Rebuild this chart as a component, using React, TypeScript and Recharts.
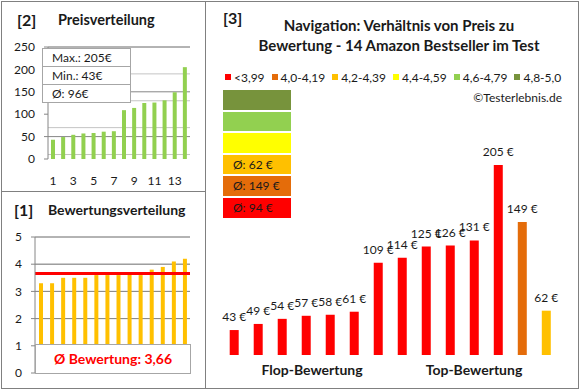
import { BarChart, Bar, XAxis, YAxis, CartesianGrid, ReferenceLine, Cell, LabelList } from 'recharts';

const FONT = 'Lato, "Open Sans", sans-serif';
const TEXT = '#1a1a1a';
const GRID_MINOR = '#c4c4c4';
const GRID_MAJOR = '#868686';

// [2] price distribution, sorted ascending
const rankLabels = ['1', '2', '3', '4', '5', '6', '7', '8', '9', '10', '11', '12', '13', '14'];
const sortedPrices = [43, 49, 54, 57, 58, 61, 62, 109, 114, 125, 126, 131, 149, 205];
const priceTicks = [0, 50, 100, 150, 200, 250];
const priceStats = ['Max.: 205€', 'Min.: 43€', 'Ø: 96€'];

// [1] rating distribution, sorted ascending
const sortedRatings = [3.3, 3.3, 3.5, 3.5, 3.5, 3.6, 3.6, 3.6, 3.6, 3.6, 3.8, 3.9, 4.1, 4.2];
const ratingTicks = [0, 1, 2, 3, 4, 5];
const ratingAverage = 3.66;
const ratingAverageText = 'Ø Bewertung: 3,66';

// [3] price vs rating
const navPrices = [43, 49, 54, 57, 58, 61, 109, 114, 125, 126, 131, 205, 149, 62];
const navClass = [0, 0, 0, 0, 0, 0, 0, 0, 0, 0, 0, 0, 1, 2];
const ratingClasses = ['<3,99', '4,0-4,19', '4,2-4,39', '4,4-4,59', '4,6-4,79', '4,8-5,0'];
const classColors = ['#FF0000', '#E46C0A', '#FFC000', '#FFFF00', '#92D050', '#77933C'];
const classAverages = ['Ø: 94 €', 'Ø: 149 €', 'Ø: 62 €', '', '', ''];

const priceData = rankLabels.map((rank, i) => ({ rank, price: sortedPrices[i] }));
const ratingData = rankLabels.map((rank, i) => ({ rank, rating: sortedRatings[i] }));
const navData = navPrices.map((price, i) => ({ rank: rankLabels[i], price, cls: navClass[i] }));

const minorPriceTicks: number[] = [];
for (let v = 0; v <= 250; v += 10) minorPriceTicks.push(v);
const minorRatingTicks: number[] = [];
for (let v = 0; v <= 5.001; v += 0.2) minorRatingTicks.push(Number(v.toFixed(1)));

const tickStyle = { fill: TEXT, fontSize: 12, fontFamily: FONT };

function PriceLabel({ x, y, width, value }: any) {
  return (
    <text x={Number(x) + Number(width) / 2} y={Number(y) - 9} textAnchor="middle" fill={TEXT} fontSize={12} fontFamily={FONT}>
      {`${value} €`}
    </text>
  );
}

function Txt({ x, y, children, size = 12, bold = false, color = TEXT, align = 'left', w }: any) {
  const style: any = {
    position: 'absolute',
    top: y,
    fontSize: size,
    fontWeight: bold ? 700 : 400,
    color,
    fontFamily: FONT,
    lineHeight: '20px',
    whiteSpace: 'nowrap',
  };
  if (align === 'center') {
    style.left = x - (w ?? 200) / 2;
    style.width = w ?? 200;
    style.textAlign = 'center';
  } else if (align === 'right') {
    style.left = x - 200;
    style.width = 200;
    style.textAlign = 'right';
  } else {
    style.left = x;
  }
  return <div style={style}>{children}</div>;
}

export default function App() {
  return (
    <div style={{ position: 'absolute', left: 0, top: 0, width: 580, height: 390, background: '#fff', fontFamily: FONT }}>
      {/* frames */}
      <div style={{ position: 'absolute', left: 1, top: 1, width: 576, height: 386, border: '1px solid #808080' }} />
      <div style={{ position: 'absolute', left: 205, top: 1, width: 1, height: 388, background: '#808080' }} />
      <div style={{ position: 'absolute', left: 1, top: 191, width: 204, height: 1, background: '#808080' }} />

      {/* [2] Preisverteilung */}
      <div style={{ position: 'absolute', left: 0, top: 0 }}>
        <BarChart width={205} height={191} data={priceData} margin={{ top: 47, right: 15, bottom: 0, left: 0 }} barSize={4}>
          <CartesianGrid vertical={false} stroke={GRID_MINOR} horizontalValues={minorPriceTicks} />
          <CartesianGrid vertical={false} stroke={GRID_MAJOR} horizontalValues={priceTicks} />
          <XAxis dataKey="rank" interval={1} tickLine={false} axisLine={false} tickSize={0} tickMargin={17} height={32} tick={tickStyle} />
          <YAxis domain={[0, 250]} ticks={priceTicks} width={48} axisLine={{ stroke: GRID_MAJOR }} tickLine={{ stroke: GRID_MAJOR }} tickSize={4} tickMargin={9} tick={tickStyle} />
          <Bar dataKey="price" fill="#92D050" isAnimationActive={false} />
        </BarChart>
      </div>
      <Txt x={17} y={10} size={16} bold>[2]</Txt>
      <Txt x={58} y={10} size={14.5} bold>Preisverteilung</Txt>
      <div style={{ position: 'absolute', left: 42, top: 48, width: 87, background: '#fff', border: '1px solid #a6a6a6' }}>
        {priceStats.map((s, i) => (
          <div key={s} style={{ height: 17, lineHeight: '17px', paddingLeft: 9, fontSize: 12, color: TEXT, borderTop: i ? '1px solid #a6a6a6' : 'none' }}>{s}</div>
        ))}
      </div>

      {/* [1] Bewertungsverteilung */}
      <div style={{ position: 'absolute', left: 0, top: 191 }}>
        <BarChart width={205} height={197} data={ratingData} margin={{ top: 46, right: 15, bottom: 15, left: 0 }} barSize={4}>
          <CartesianGrid vertical={false} stroke={GRID_MINOR} horizontalValues={minorRatingTicks} />
          <CartesianGrid vertical={false} stroke={GRID_MAJOR} horizontalValues={ratingTicks} />
          <XAxis dataKey="rank" hide />
          <YAxis domain={[0, 5]} ticks={ratingTicks} width={35} axisLine={{ stroke: GRID_MAJOR }} tickLine={{ stroke: GRID_MAJOR }} tickSize={4} tickMargin={9} tick={tickStyle} />
          <Bar dataKey="rating" fill="#FFC000" isAnimationActive={false} />
          <ReferenceLine y={ratingAverage} stroke="#FF0000" strokeWidth={3} />
        </BarChart>
      </div>
      <Txt x={14} y={200} size={16} bold>[1]</Txt>
      <Txt x={48} y={200} size={14} bold>Bewertungsverteilung</Txt>
      <div style={{ position: 'absolute', left: 35, top: 344, width: 154, height: 28, background: '#fff', border: '1px solid #a6a6a6', textAlign: 'center', lineHeight: '28px', fontSize: 14, fontWeight: 700, color: '#FF0000' }}>
        {ratingAverageText}
      </div>

      {/* [3] Navigation */}
      <div style={{ position: 'absolute', left: 206, top: 0 }}>
        <BarChart width={372} height={388} data={navData} margin={{ top: 151.3, right: 20.2, bottom: 33, left: 15.7 }} barSize={9}>
          <XAxis dataKey="rank" hide />
          <YAxis hide domain={[18.5, 218.5]} allowDataOverflow />
          <Bar dataKey="price" isAnimationActive={false}>
            {navData.map((d) => (
              <Cell key={d.rank} fill={classColors[d.cls]} />
            ))}
            <LabelList dataKey="price" content={PriceLabel} />
          </Bar>
        </BarChart>
      </div>
      <Txt x={223} y={8} size={16} bold>[3]</Txt>
      <Txt x={399} y={15} size={15} bold align="center" w={370}>Navigation: Verhältnis von Preis zu</Txt>
      <Txt x={399} y={35} size={15} bold align="center" w={370}>Bewertung - 14 Amazon Bestseller im Test</Txt>
      <div style={{ position: 'absolute', left: 225, top: 67, height: 20, display: 'flex', alignItems: 'center', gap: 7, fontSize: 12, color: TEXT }}>
        {ratingClasses.map((c, i) => (
          <div key={c} style={{ display: 'flex', alignItems: 'center' }}>
            <div style={{ width: 6, height: 6, background: classColors[i], marginRight: 3 }} />
            <span>{c}</span>
          </div>
        ))}
      </div>
      <Txt x={562} y={88} align="right">©Testerlebnis.de</Txt>
      <div style={{ position: 'absolute', left: 223, top: 90, width: 68, display: 'flex', flexDirection: 'column', gap: 2 }}>
        {ratingClasses.map((c, i) => ratingClasses.length - 1 - i).map((idx) => (
          <div key={idx} style={{ height: 19.6, background: classColors[idx], fontSize: 12, lineHeight: '19.6px', paddingLeft: 10, color: TEXT }}>
            {classAverages[idx]}
          </div>
        ))}
      </div>
      <Txt x={312} y={360} size={14} bold align="center">Flop-Bewertung</Txt>
      <Txt x={474} y={360} size={14} bold align="center">Top-Bewertung</Txt>
    </div>
  );
}
